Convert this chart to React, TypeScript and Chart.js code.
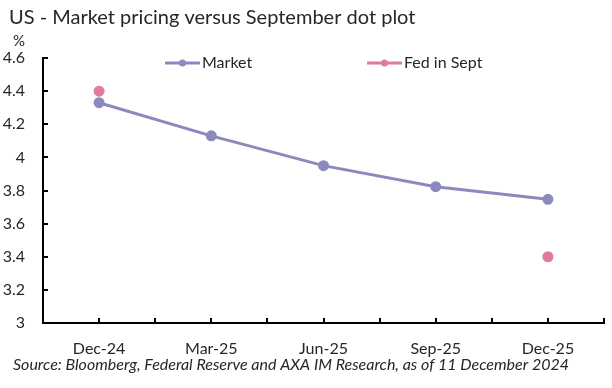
import React, { useEffect, useRef } from "react";
import { Chart, registerables } from "chart.js";

Chart.register(...registerables);

const categories = ["Dec-24", "Mar-25", "Jun-25", "Sep-25", "Dec-25"];
const marketValues = [4.33, 4.13, 3.95, 3.823, 3.747];
const fedValues: (number | null)[] = [4.4, null, null, null, 3.4];
const yTicks = [3, 3.2, 3.4, 3.6, 3.8, 4, 4.2, 4.4, 4.6];

const TITLE = "US - Market pricing versus September dot plot";
const SOURCE = "Source: Bloomberg, Federal Reserve and AXA IM Research, as of 11 December 2024";
const UNIT = "%";
const SERIES_NAMES = ["Market", "Fed in Sept"];

const MARKET_COLOR = "#8B89BE";
const FED_COLOR = "#E07AA0";
const TEXT_COLOR = "#262626";
const FONT = "Lato, 'Open Sans', sans-serif";

const annotationsPlugin = {
  id: "extras",
  afterDraw(chart: any) {
    const ctx = chart.ctx as CanvasRenderingContext2D;
    const x = chart.scales.x;
    const y = chart.scales.y;
    const area = chart.chartArea;
    ctx.save();
    // inward tick marks
    ctx.strokeStyle = "#000";
    ctx.lineWidth = 2;
    ctx.beginPath();
    for (let v = x.min + 1; v <= x.max; v += 1) {
      const px = Math.round(x.getPixelForValue(v));
      ctx.moveTo(px, area.bottom);
      ctx.lineTo(px, area.bottom - 5);
    }
    for (const t of yTicks) {
      const py = Math.round(y.getPixelForValue(t));
      ctx.moveTo(area.left, py);
      ctx.lineTo(area.left + 5, py);
    }
    ctx.stroke();

    // title
    ctx.fillStyle = TEXT_COLOR;
    ctx.textBaseline = "middle";
    ctx.textAlign = "left";
    ctx.font = `20px ${FONT}`;
    ctx.fillText(TITLE, 9, 18);
    // unit
    ctx.font = `15px ${FONT}`;
    ctx.fillText(UNIT, 13, 41);
    // source
    ctx.font = `italic 16px ${FONT}`;
    ctx.fillText(SOURCE, 13, 365);

    // legend
    const legendY = 63;
    const items = [
      { name: SERIES_NAMES[0], color: MARKET_COLOR, x0: 165 },
      { name: SERIES_NAMES[1], color: FED_COLOR, x0: 367 },
    ];
    ctx.font = `16px ${FONT}`;
    for (const it of items) {
      ctx.strokeStyle = it.color;
      ctx.lineWidth = 3;
      ctx.beginPath();
      ctx.moveTo(it.x0, legendY);
      ctx.lineTo(it.x0 + 35, legendY);
      ctx.stroke();
      ctx.fillStyle = it.color;
      ctx.beginPath();
      ctx.arc(it.x0 + 17.5, legendY, 3.5, 0, Math.PI * 2);
      ctx.fill();
      ctx.fillStyle = TEXT_COLOR;
      ctx.fillText(it.name, it.x0 + 37, legendY);
    }
    ctx.restore();
  },
};

export default function App() {
  const ref = useRef<HTMLCanvasElement | null>(null);
  useEffect(() => {
    if (!ref.current) return;
    const chart = new Chart(ref.current, {
      type: "line",
      data: {
        datasets: [
          {
            label: SERIES_NAMES[0],
            data: marketValues.map((v, i) => ({ x: 1 + 2 * i, y: v })),
            borderColor: MARKET_COLOR,
            backgroundColor: MARKET_COLOR,
            borderWidth: 3,
            pointRadius: 4,
            pointHoverRadius: 4,
            tension: 0,
          },
          {
            label: SERIES_NAMES[1],
            data: fedValues.map((v, i) => ({ x: 1 + 2 * i, y: v })),
            borderColor: FED_COLOR,
            backgroundColor: FED_COLOR,
            borderWidth: 3,
            pointRadius: 4,
            pointHoverRadius: 4,
            spanGaps: false,
          },
        ],
      },
      options: {
        animation: false,
        responsive: false,
        layout: { padding: { top: 58, right: 8, left: 0, bottom: 0 } },
        plugins: {
          legend: { display: false },
          title: { display: false },
          tooltip: { enabled: false },
        },
        scales: {
          x: {
            type: "linear",
            min: 0,
            max: 10,
            afterFit: (s: any) => {
              s.height = 65;
            },
            afterBuildTicks: (s: any) => {
              s.ticks = categories.map((_, i) => ({ value: 1 + 2 * i }));
            },
            ticks: {
              autoSkip: false,
              maxRotation: 0,
              padding: 16,
              color: TEXT_COLOR,
              font: { family: FONT, size: 16 },
              callback: (v: any) => categories[(Number(v) - 1) / 2] ?? "",
            },
            grid: { display: false, drawTicks: false },
            border: { display: true, color: "#000", width: 2 },
          },
          y: {
            type: "linear",
            min: 3,
            max: 4.6,
            afterFit: (s: any) => {
              s.width = 43;
            },
            afterBuildTicks: (s: any) => {
              s.ticks = yTicks.map((v) => ({ value: v }));
            },
            ticks: {
              padding: 18,
              color: TEXT_COLOR,
              font: { family: FONT, size: 16 },
              callback: (v: any) => String(Number(Number(v).toFixed(1))),
            },
            grid: { display: false, drawTicks: false },
            border: { display: true, color: "#000", width: 2 },
          },
        },
      },
      plugins: [annotationsPlugin],
    });
    return () => chart.destroy();
  }, []);
  return (
    <div style={{ position: "fixed", left: 0, top: 0, width: 612, height: 388, background: "#fff" }}>
      <canvas ref={ref} width={612} height={388} style={{ display: "block", width: 612, height: 388 }} />
    </div>
  );
}
